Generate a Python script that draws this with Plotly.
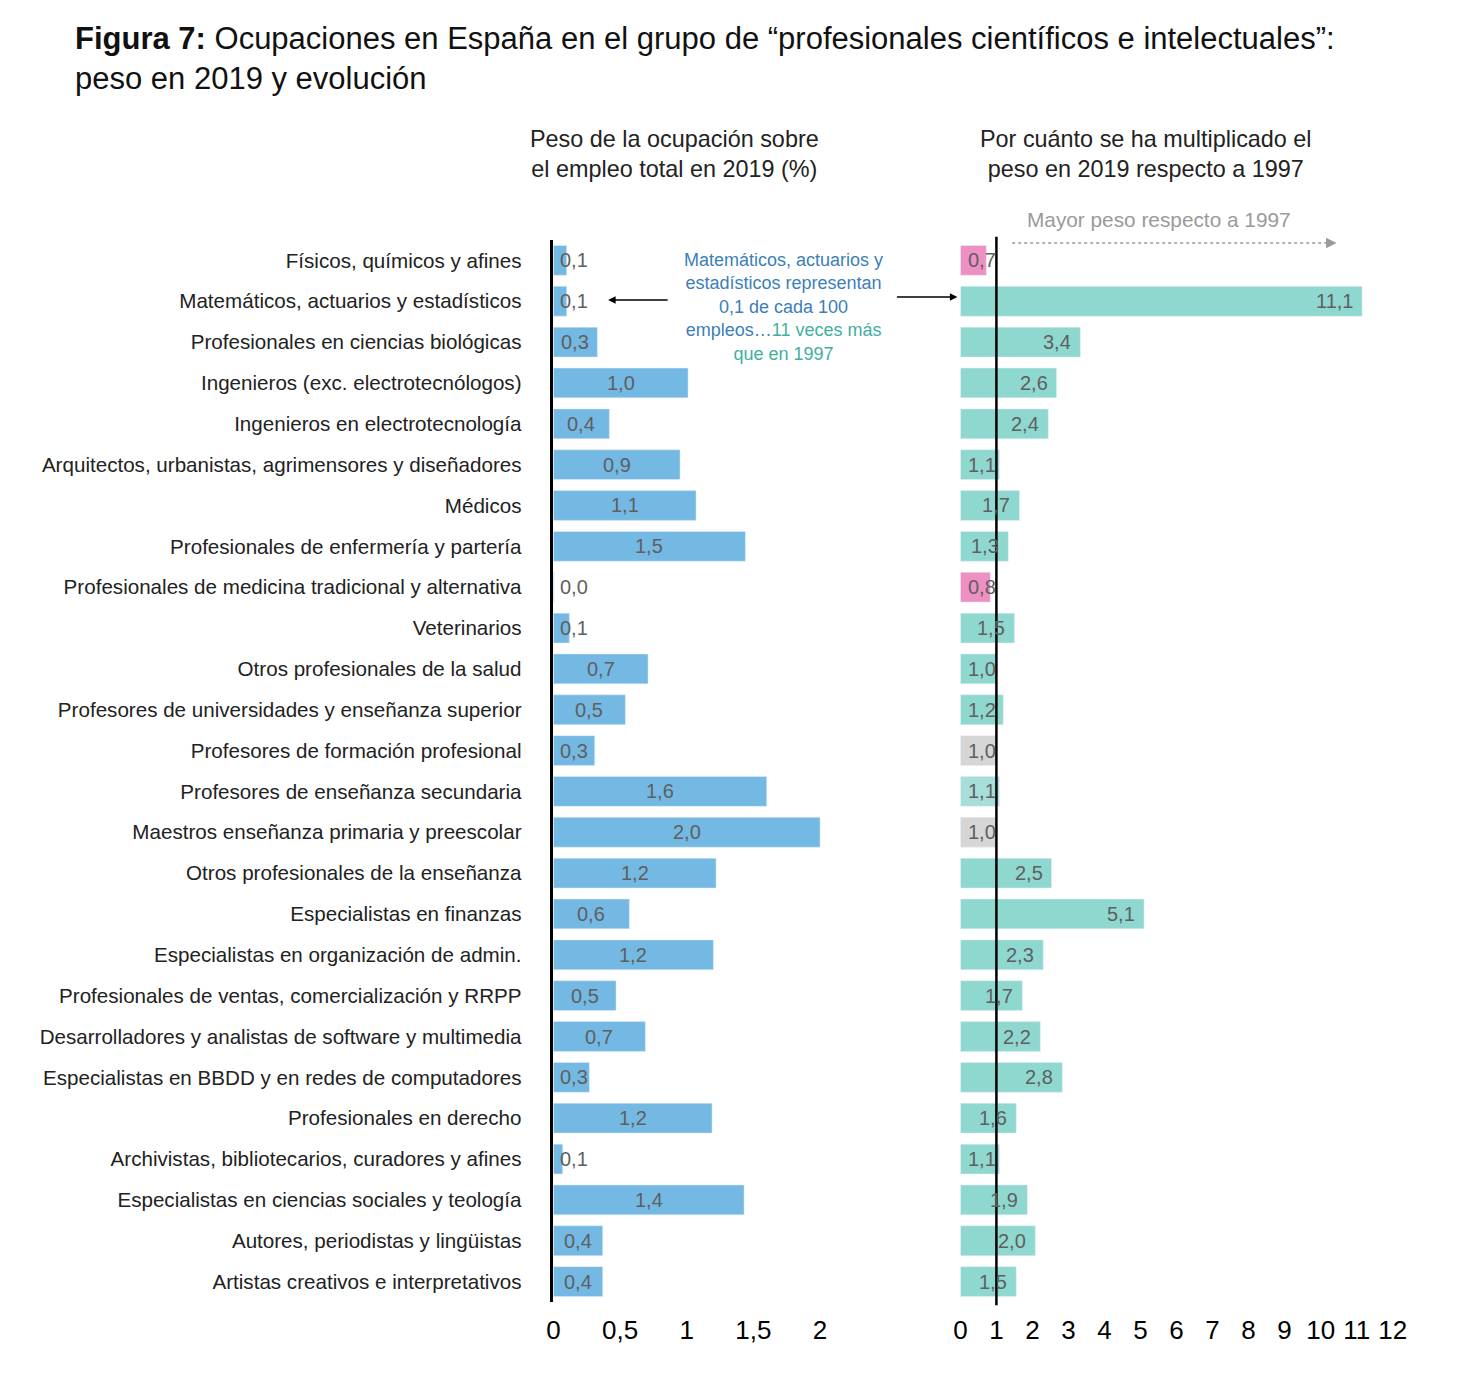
import plotly.graph_objects as go

# page body has an 8px margin; the figure is sized so that page pixels map onto it
OFF = 8
W, H = 1458 - 2 * OFF, 1384 - 2 * OFF

categories = [
    "Físicos, químicos y afines",
    "Matemáticos, actuarios y estadísticos",
    "Profesionales en ciencias biológicas",
    "Ingenieros (exc. electrotecnólogos)",
    "Ingenieros en electrotecnología",
    "Arquitectos, urbanistas, agrimensores y diseñadores",
    "Médicos",
    "Profesionales de enfermería y partería",
    "Profesionales de medicina tradicional y alternativa",
    "Veterinarios",
    "Otros profesionales de la salud",
    "Profesores de universidades y enseñanza superior",
    "Profesores de formación profesional",
    "Profesores de enseñanza secundaria",
    "Maestros enseñanza primaria y preescolar",
    "Otros profesionales de la enseñanza",
    "Especialistas en finanzas",
    "Especialistas en organización de admin.",
    "Profesionales de ventas, comercialización y RRPP",
    "Desarrolladores y analistas de software y multimedia",
    "Especialistas en BBDD y en redes de computadores",
    "Profesionales en derecho",
    "Archivistas, bibliotecarios, curadores y afines",
    "Especialistas en ciencias sociales y teología",
    "Autores, periodistas y lingüistas",
    "Artistas creativos e interpretativos",
]

# Peso sobre el empleo total en 2019 (%) - bar lengths and printed labels
peso_2019 = [0.10, 0.10, 0.33, 1.01, 0.42, 0.95, 1.07, 1.44, 0.005, 0.12, 0.71, 0.54, 0.31,
             1.60, 2.00, 1.22, 0.57, 1.20, 0.47, 0.69, 0.27, 1.19, 0.07, 1.43, 0.37, 0.37]
peso_labels = ["0,1", "0,1", "0,3", "1,0", "0,4", "0,9", "1,1", "1,5", "0,0", "0,1", "0,7", "0,5", "0,3",
               "1,6", "2,0", "1,2", "0,6", "1,2", "0,5", "0,7", "0,3", "1,2", "0,1", "1,4", "0,4", "0,4"]

# Multiplicador del peso 2019 vs 1997
multiplicador = [0.72, 11.15, 3.33, 2.67, 2.44, 1.08, 1.64, 1.33, 0.83, 1.50, 1.00, 1.19, 1.00,
                 1.08, 1.00, 2.53, 5.10, 2.30, 1.72, 2.22, 2.83, 1.55, 1.08, 1.86, 2.08, 1.55]
mult_labels = ["0,7", "11,1", "3,4", "2,6", "2,4", "1,1", "1,7", "1,3", "0,8", "1,5", "1,0", "1,2", "1,0",
               "1,1", "1,0", "2,5", "5,1", "2,3", "1,7", "2,2", "2,8", "1,6", "1,1", "1,9", "2,0", "1,5"]
mult_group = ["menor", "mayor", "mayor", "mayor", "mayor", "mayor", "mayor", "mayor", "menor", "mayor",
              "mayor", "mayor", "igual", "leve", "igual", "mayor", "mayor", "mayor", "mayor", "mayor",
              "mayor", "mayor", "mayor", "mayor", "mayor", "mayor"]

left_ticks = [0, 0.5, 1, 1.5, 2]
left_ticktext = ["0", "0,5", "1", "1,5", "2"]
right_ticks = list(range(0, 13))
right_ticktext = [str(t) for t in right_ticks]

BLUE = "#74B9E3"
group_colors = {"mayor": "#8FD8D0", "menor": "#EE90C4", "igual": "#D6D6D6", "leve": "#A7DEDA"}
LABEL_GREY = "#5f5f5f"
FONT = "Liberation Sans, Arial, sans-serif"


def px(x):
    return (x - OFF) / W


def py(y):
    return 1 - (y - OFF) / H


y_idx = list(range(len(categories)))

fig = go.Figure()
fig.add_trace(go.Bar(x=peso_2019, y=y_idx, orientation="h", marker_color=BLUE,
                     width=0.73, xaxis="x", yaxis="y", showlegend=False))
fig.add_trace(go.Bar(x=multiplicador, y=y_idx, orientation="h",
                     marker_color=[group_colors[g] for g in mult_group],
                     width=0.73, xaxis="x2", yaxis="y2", showlegend=False))

annotations = []
# left labels
for i, (v, t) in enumerate(zip(peso_2019, peso_labels)):
    annotations.append(dict(x=max(v / 2, 0.157), y=i, xref="x", yref="y", text=t, showarrow=False,
                            xanchor="center", yanchor="middle",
                            font=dict(family=FONT, size=20, color=LABEL_GREY)))
# right labels
for i, (v, t) in enumerate(zip(multiplicador, mult_labels)):
    annotations.append(dict(x=max(v, 1.25), y=i, xref="x2", yref="y2", text=t, showarrow=False,
                            xanchor="right", yanchor="middle", xshift=-7,
                            font=dict(family=FONT, size=20, color=LABEL_GREY)))

# title
annotations.append(dict(x=px(66), y=py(19), xref="paper", yref="paper", xanchor="left", yanchor="top",
                        align="left", showarrow=False,
                        text="<b>Figura 7:</b> Ocupaciones en España en el grupo de “profesionales científicos e intelectuales”:<br>peso en 2019 y evolución",
                        font=dict(family=FONT, size=31, color="#111111")))
# panel subtitles
annotations.append(dict(x=px(671), y=py(154), xref="paper", yref="paper", xanchor="center", yanchor="middle",
                        showarrow=False, text="Peso de la ocupación sobre<br>el empleo total en 2019 (%)",
                        font=dict(family=FONT, size=23.4, color="#222222")))
annotations.append(dict(x=px(1145), y=py(154), xref="paper", yref="paper", xanchor="center", yanchor="middle",
                        showarrow=False, text="Por cuánto se ha multiplicado el<br>peso en 2019 respecto a 1997",
                        font=dict(family=FONT, size=23.4, color="#222222")))
annotations.append(dict(x=px(1158), y=py(220), xref="paper", yref="paper", xanchor="center", yanchor="middle",
                        showarrow=False, text="Mayor peso respecto a 1997",
                        font=dict(family=FONT, size=20.8, color="#9a9a9a")))
# callout text
annotations.append(dict(x=px(780), y=py(307), xref="paper", yref="paper", xanchor="center", yanchor="middle",
                        showarrow=False, align="center",
                        text=("Matemáticos, actuarios y<br>estadísticos representan<br>0,1 de cada 100<br>"
                              "empleos…<span style='color:#3FB0A0'>11 veces más</span><br>"
                              "<span style='color:#3FB0A0'>que en 1997</span>"),
                        font=dict(family=FONT, size=18, color="#3C7FB8")))
# callout arrows
annotations.append(dict(x=px(604), y=py(300), xref="paper", yref="paper", ax=61, ay=0, text="",
                        showarrow=True, arrowhead=2, arrowsize=1, arrowwidth=1.5, arrowcolor="black"))
annotations.append(dict(x=px(955), y=py(297), xref="paper", yref="paper", ax=-62, ay=0, text="",
                        showarrow=True, arrowhead=2, arrowsize=1, arrowwidth=1.5, arrowcolor="black"))
# dotted arrow head
annotations.append(dict(x=px(1336), y=py(243), xref="paper", yref="paper", ax=-8, ay=0, text="",
                        showarrow=True, arrowhead=2, arrowsize=1.4, arrowwidth=1.5, arrowcolor="#9a9a9a"))

shapes = [
    dict(type="line", xref="paper", yref="paper", x0=px(1010), x1=px(1328), y0=py(243), y1=py(243),
         line=dict(color="#9a9a9a", width=1.5, dash="dot")),
    dict(type="line", xref="x2", yref="y2 domain", x0=1, x1=1, y0=-0.003, y1=1.003,
         line=dict(color="black", width=2.5), layer="above"),
]

L0, L1 = 549, 880
R0, R1 = 958, 1410
fig.update_layout(
    width=W, height=H,
    margin=dict(l=0, r=0, t=0, b=0),
    paper_bgcolor="white", plot_bgcolor="white",
    font=dict(family=FONT, color="#222222"),
    annotations=annotations,
    shapes=shapes,
    xaxis=dict(domain=[px(L0), px(L1)], range=[0, (L1 - L0) / 134], tickvals=left_ticks,
               ticktext=left_ticktext, showgrid=False, zeroline=False, showline=False,
               tickfont=dict(family=FONT, size=26, color="black"), ticks="", ticklabelstandoff=10,
               fixedrange=True),
    yaxis=dict(domain=[py(1302), py(240)], range=[25.5, -0.5], tickvals=y_idx, ticktext=categories,
               showgrid=False, zeroline=False, showline=True, linecolor="black", linewidth=2.5,
               ticks="", ticklabelstandoff=25, tickfont=dict(family=FONT, size=20.6, color="#222222")),
    xaxis2=dict(domain=[px(R0), px(R1)], range=[0, (R1 - R0) / 36.2], tickvals=right_ticks,
                ticktext=right_ticktext, showgrid=False, zeroline=False, showline=False,
                tickfont=dict(family=FONT, size=26, color="black"), ticks="", ticklabelstandoff=10,
                anchor="y2"),
    yaxis2=dict(domain=[py(1302), py(240)], range=[25.5, -0.5], showticklabels=False, showgrid=False,
                zeroline=False, showline=False, anchor="x2"),
)

fig.write_html("out.html")
